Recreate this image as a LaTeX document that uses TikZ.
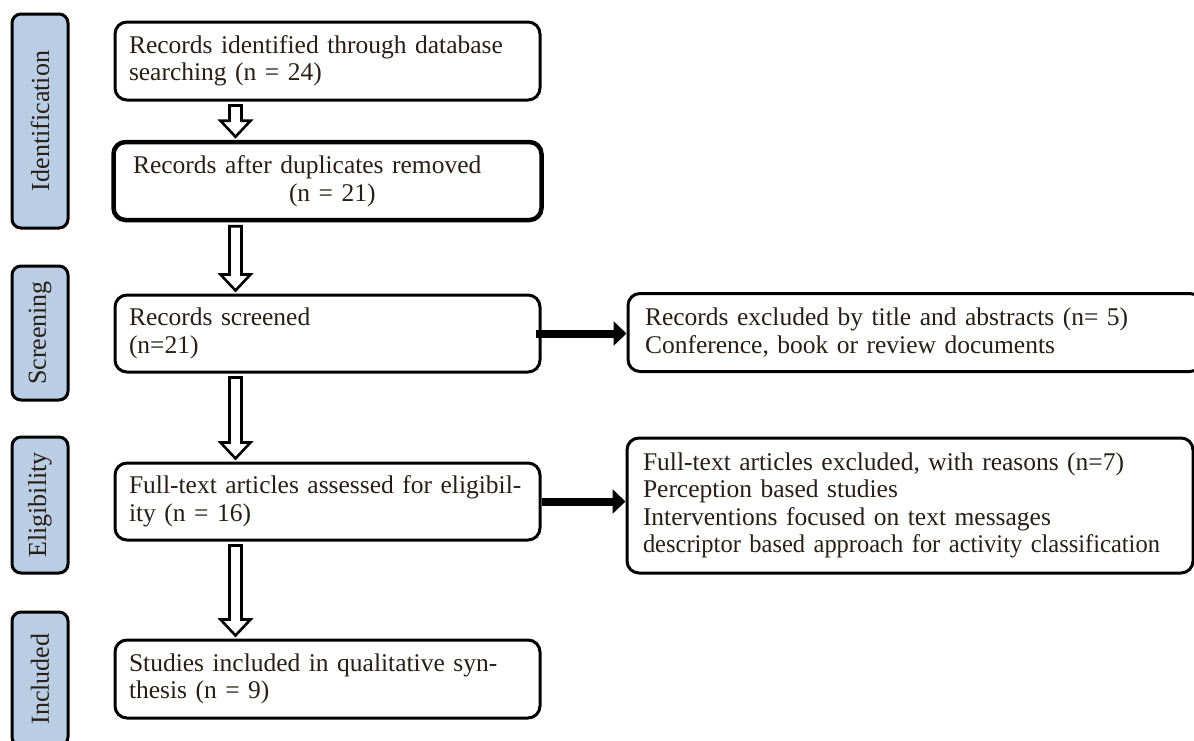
\documentclass[tikz,border=0pt]{standalone}
\usepackage{fontspec}
\setmainfont{Liberation Serif}[WordSpace=0.8]
\newfontfamily\narrowserif{Liberation Serif}[WordSpace=0.8, FakeStretch=0.96]
\usetikzlibrary{positioning, arrows.meta, calc}
\definecolor{stagefill}{RGB}{185,205,229}
\definecolor{inkbrown}{RGB}{40,30,20}
\tikzstyle{stage} = [draw=black, line width=3pt, rounded corners=9pt, fill=stagefill, rotate=90, minimum height=56pt, inner sep=0pt, text=inkbrown, font=\fontsize{26}{28}\selectfont]
\tikzstyle{stepbox} = [draw=black, line width=3pt, rounded corners=12pt, minimum width=425pt, minimum height=78pt, text width=397pt, inner xsep=14pt, align=left, text=inkbrown, font=\fontsize{25.5}{27.5}\selectfont]
\tikzstyle{hollow} = [draw=black, line width=2.6pt, fill=white,
to path={
	let \p1=(\tikztostart), \p2=(\tikztotarget) in
	(\x1-6pt,\y1-4pt) -- (\x1-6pt,\y2+19pt) -- (\x1-15pt,\y2+19pt) -- (\x1,\y2+3pt)
	-- (\x1+15pt,\y2+19pt) -- (\x1+6pt,\y2+19pt) -- (\x1+6pt,\y1-4pt) -- cycle
}
]
\tikzstyle{thickarrow} = [draw=black, line width=8pt, -{Triangle[length=13pt, width=24pt]}]

\begin{document}
\begin{tikzpicture}[>=Stealth, x=1pt, y=1pt]
		\useasboundingbox (0,0) rectangle (1194,-740);
		
		% stages
		\node[stage, minimum width=214pt] (idlabel) at (40,-121) {Identification};
		\node[stage, minimum width=134pt] (sclabel) at (40,-333) {Screening};
		\node[stage, minimum width=136pt] (ellabel) at (40,-505) {Eligibility};
		\node[stage, minimum width=134pt] (inlabel) at (40,-679) {Included};
		
		% main column
		\node[stepbox] (ident1) at (327.5,-61) {Records identified through database\\searching (n = 24)};
		\node[stepbox, line width=4.5pt, minimum width=428pt, node distance=120pt, below of=ident1] (ident2) {\hspace*{4pt}Records after duplicates removed\\\hspace*{160pt}(n = 21)};
		\node[stepbox, minimum height=77pt, node distance=152.5pt, below of=ident2] (screen) {Records screened\\(n=21)};
		\node[stepbox, minimum height=77pt, node distance=168pt, below of=screen] (elig) {Full-text articles assessed for eligibil-\\ity (n = 16)};
		\node[stepbox, node distance=177.5pt, below of=elig] (incl) {Studies included in qualitative syn-\\thesis (n = 9)};
		
		% excluded
		\node[stepbox, minimum width=574pt, text width=540pt, inner xsep=17pt, node distance=587.5pt, right of=screen, yshift=1pt] (excl1) {Records excluded by title and abstracts (n= 5)\\Conference, book or review documents};
		\node[stepbox, minimum width=566pt, minimum height=135pt, text width=534pt, inner xsep=16pt, node distance=582.5pt, right of=elig, yshift=-4pt] (excl2) {Full-text articles excluded, with reasons (n=7)\\Perception based studies\\Interventions focused on text messages\\{\narrowserif descriptor based approach for activity classification}};
		
		% connections
		\draw[hollow] ([xshift=-92pt]ident1.south) to ([xshift=-92pt]ident2.north);
		\draw[hollow] ([xshift=-92pt]ident2.south) to ([xshift=-92pt]screen.north);
		\draw[hollow] ([xshift=-92pt]screen.south) to ([xshift=-92pt]elig.north);
		\draw[hollow] ([xshift=-92pt]elig.south) to ([xshift=-92pt]incl.north);
		\draw[thickarrow] ([xshift=-6pt]screen.east) -- (screen.east -| excl1.west);
		\draw[thickarrow] (elig.east) -- (elig.east -| excl2.west);
		
	\end{tikzpicture}
\end{document}
